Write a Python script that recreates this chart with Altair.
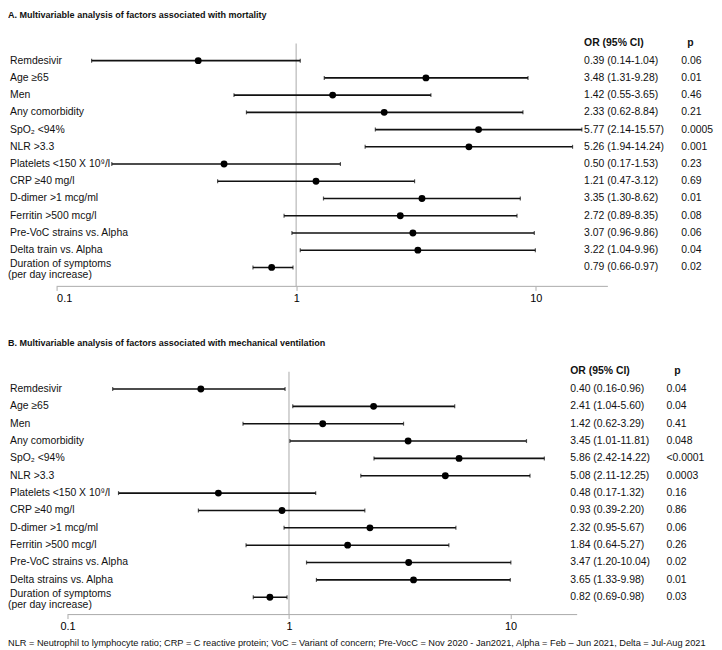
import altair as alt
import pandas as pd

# ---------------- data ----------------
labels_a = ["Remdesivir", "Age ≥65", "Men", "Any comorbidity", "SpO₂ <94%", "NLR >3.3",
            "Platelets <150 X 10⁹/l", "CRP ≥40 mg/l", "D-dimer  >1 mcg/ml", "Ferritin >500 mcg/l",
            "Pre-VoC strains vs. Alpha", "Delta train vs. Alpha", "Duration of symptoms"]
or_a = [0.39, 3.48, 1.42, 2.33, 5.77, 5.26, 0.50, 1.21, 3.35, 2.72, 3.07, 3.22, 0.79]
lo_a = [0.14, 1.31, 0.55, 0.62, 2.14, 1.94, 0.17, 0.47, 1.30, 0.89, 0.96, 1.04, 0.66]
hi_a = [1.04, 9.28, 3.65, 8.84, 15.57, 14.24, 1.53, 3.12, 8.62, 8.35, 9.86, 9.96, 0.97]
p_a = ["0.06", "0.01", "0.46", "0.21", "0.0005", "0.001", "0.23", "0.69", "0.01", "0.08",
       "0.06", "0.04", "0.02"]

labels_b = ["Remdesivir", "Age ≥65", "Men", "Any comorbidity", "SpO₂ <94%", "NLR >3.3",
            "Platelets <150 X 10⁹/l", "CRP ≥40 mg/l", "D-dimer  >1 mcg/ml", "Ferritin >500 mcg/l",
            "Pre-VoC strains vs. Alpha", "Delta strains vs. Alpha", "Duration of symptoms"]
or_b = [0.40, 2.41, 1.42, 3.45, 5.86, 5.08, 0.48, 0.93, 2.32, 1.84, 3.47, 3.65, 0.82]
lo_b = [0.16, 1.04, 0.62, 1.01, 2.42, 2.11, 0.17, 0.39, 0.95, 0.64, 1.20, 1.33, 0.69]
hi_b = [0.96, 5.60, 3.29, 11.81, 14.22, 12.25, 1.32, 2.20, 5.67, 5.27, 10.04, 9.98, 0.98]
p_b = ["0.04", "0.04", "0.41", "0.048", "<0.0001", "0.0003", "0.16", "0.86", "0.06", "0.26",
       "0.02", "0.01", "0.03"]

sublabel = "(per day increase)"
title_a = "A. Multivariable analysis of factors associated with mortality"
title_b = "B. Multivariable analysis of factors associated with mechanical ventilation"
footnote = ("NLR = Neutrophil to lymphocyte ratio; CRP = C reactive protein; VoC = Variant of concern; "
            "Pre-VocC = Nov 2020 - Jan2021, Alpha = Feb – Jun 2021, Delta = Jul-Aug 2021")
tick_values = [0.1, 1, 10]

FONT = "Liberation Sans"


def panel(labels, ors, los, his, ps, title, xdomain, width, height, ydomain,
          ci_x, p_x, p_head_x, foot=None):
    df = pd.DataFrame({
        "row": list(range(len(labels))),
        "label": labels,
        "or": ors,
        "lo": los,
        "hi": his,
        "ci": [f"{o:.2f} ({l:.2f}-{h:.2f})" for o, l, h in zip(ors, los, his)],
        "p": ps,
    })
    xs = alt.Scale(type="log", domain=xdomain, nice=False)
    ys = alt.Scale(domain=ydomain, reverse=True, nice=False, zero=False)
    xaxis = alt.Axis(values=tick_values, format="~g", domain=False, grid=False,
                     ticks=True, tickSize=4, tickColor="#aaaaaa", labelFont=FONT,
                     labelFontSize=11, labelColor="#000000", labelPadding=2, title=None)
    base = alt.Chart(df)
    X = lambda f: alt.X(f, scale=xs, axis=xaxis)
    Y = alt.Y("row:Q", scale=ys, axis=None)

    one = alt.Chart(pd.DataFrame({"v": [1]}))
    refline = one.mark_rule(color="#c6c6c6", strokeWidth=1.5).encode(
        x=X("v:Q"), y=alt.value(0), y2=alt.value(height))
    axisline = alt.Chart(pd.DataFrame({"a": [0.1], "b": [xdomain[1]],
                                       "row": [ydomain[1]]})).mark_rule(
        color="#aaaaaa", strokeWidth=1).encode(x=X("a:Q"), x2="b:Q", y=Y)
    whisk = base.mark_rule(color="#111111", strokeWidth=1.6).encode(x=X("lo:Q"), x2="hi:Q", y=Y)
    cap_lo = base.mark_tick(orient="vertical", color="#111111", size=4, thickness=1.2).encode(
        x=X("lo:Q"), y=Y)
    cap_hi = base.mark_tick(orient="vertical", color="#111111", size=4, thickness=1.2).encode(
        x=X("hi:Q"), y=Y)
    dots = base.mark_circle(color="#000000", size=48, opacity=1).encode(x=X("or:Q"), y=Y)
    n = len(labels)
    lab = base.transform_filter(alt.datum.row < n - 1).mark_text(
        align="left", font=FONT, fontSize=10.5, color="#111111").encode(
        x=alt.value(-47), y=Y, text="label:N")
    lab_last = base.transform_filter(alt.datum.row == n - 1).mark_text(
        align="left", font=FONT, fontSize=10.5, color="#111111", dy=-3).encode(
        x=alt.value(-47), y=Y, text="label:N")
    sub = alt.Chart(pd.DataFrame({"row": [n - 1], "t": [sublabel]})).mark_text(
        align="left", font=FONT, fontSize=10.5, color="#111111", dy=8).encode(
        x=alt.value(-49), y=Y, text="t:N")
    ci = base.mark_text(align="left", font=FONT, fontSize=10.5, color="#111111").encode(
        x=alt.value(ci_x), y=Y, text="ci:N")
    pt = base.mark_text(align="left", font=FONT, fontSize=10.5, color="#111111").encode(
        x=alt.value(p_x), y=Y, text="p:N")
    head = alt.Chart(pd.DataFrame({"row": [-1.05, -1.05], "t": ["OR (95% CI)", "p"],
                                   "xx": [ci_x, p_head_x]})).mark_text(
        align="left", font=FONT, fontSize=10.5, fontWeight="bold", color="#111111").encode(
        x=alt.X("xx:Q", scale=None), y=Y, text="t:N")
    ttl = alt.Chart(pd.DataFrame({"t": [title]})).mark_text(
        align="left", font=FONT, fontSize=9.1, fontWeight="bold", color="#111111").encode(
        x=alt.value(-49), y=alt.value(-29), text="t:N")
    layers = [refline, axisline, whisk, cap_lo, cap_hi, dots, lab, lab_last, sub, ci, pt, head, ttl]
    if foot is not None:
        layers.append(alt.Chart(pd.DataFrame({"t": [foot]})).mark_text(
            align="left", font=FONT, fontSize=9.3, color="#111111").encode(
            x=alt.value(-49), y=alt.value(height + 29), text="t:N"))
    return alt.layer(*layers).properties(width=width, height=height)


pa = panel(labels_a, or_a, lo_a, hi_a, p_a, title_a, [0.1, 20], 556, 245, [-1, 13.1],
           532, 630, 636)
pb = panel(labels_b, or_b, lo_b, hi_b, p_b, title_b, [0.0893, 20], 525, 245, [-1, 13.0],
           518, 615, 623, foot=footnote)

chart = alt.vconcat(pa, pb, spacing=36).properties(
    padding={"left": 0, "top": 0, "right": 0, "bottom": 0}
).configure_view(stroke=None)

chart.save("out.html", embed_options={"renderer": "svg", "actions": False})
